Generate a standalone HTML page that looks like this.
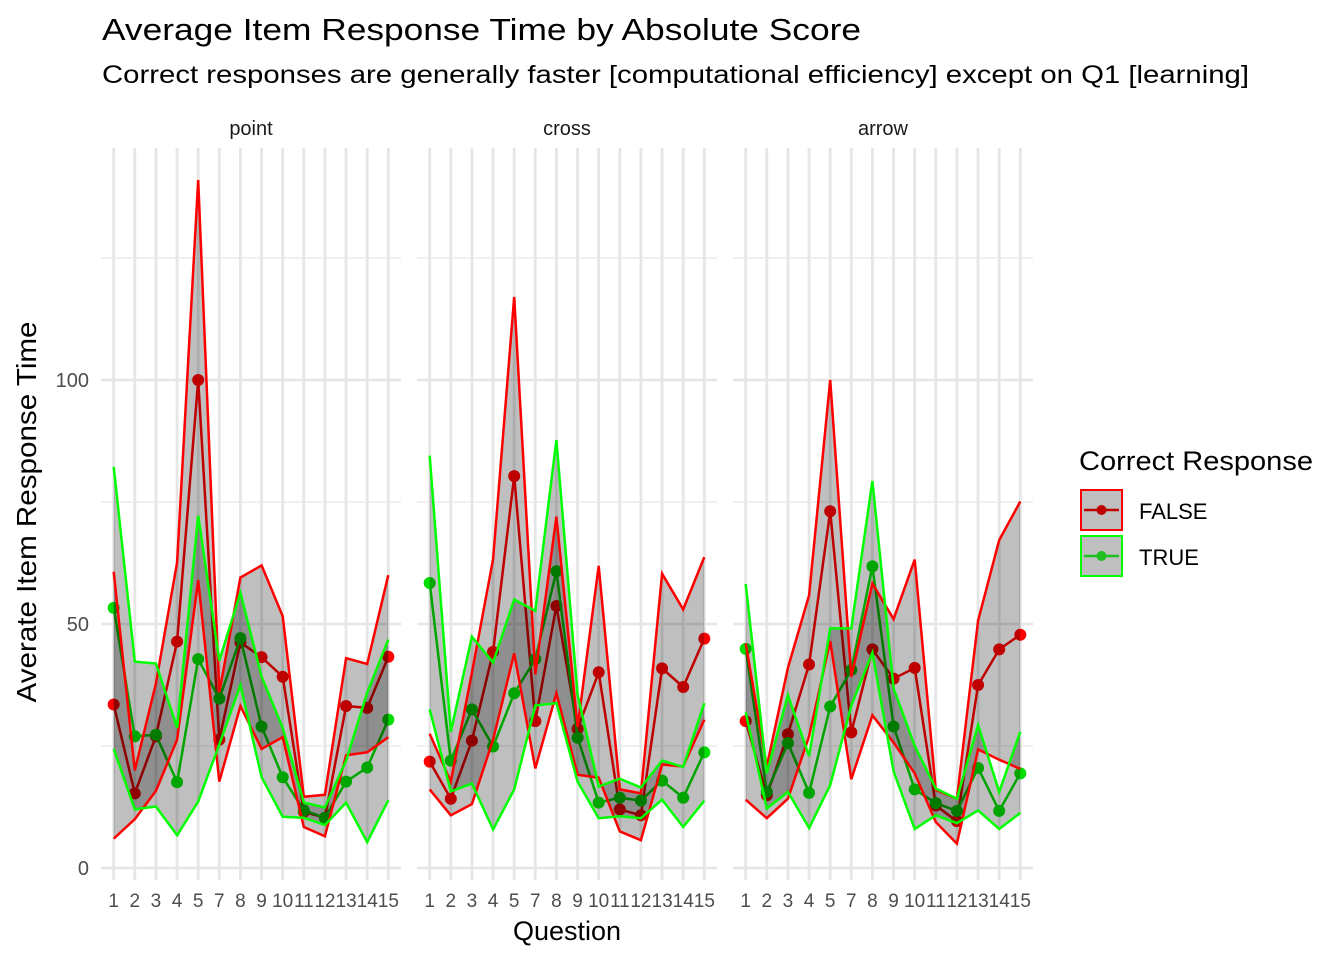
<!DOCTYPE html>
<html><head><meta charset="utf-8"><style>
body{margin:0;background:#fff;}
svg{display:block;font-family:"Liberation Sans",Arial,sans-serif;}
</style></head><body>
<svg id="chart" width="1344" height="960" viewBox="0 0 1344 960">
<text x="102" y="40" font-size="31" fill="#000" textLength="759" lengthAdjust="spacingAndGlyphs">Average Item Response Time by Absolute Score</text>
<text x="102" y="83" font-size="25" fill="#000" textLength="1147" lengthAdjust="spacingAndGlyphs">Correct responses are generally faster [computational efficiency] except on Q1 [learning]</text>
<text transform="translate(36,512) rotate(-90)" text-anchor="middle" font-size="28" fill="#000" textLength="381" lengthAdjust="spacingAndGlyphs">Averate Item Response Time</text>
<text x="567" y="940" text-anchor="middle" font-size="27" fill="#000">Question</text>
<g id="panels"></g>
<g>
<text x="1079" y="470" font-size="27" fill="#000" textLength="234" lengthAdjust="spacingAndGlyphs">Correct Response</text>
<g>
<rect x="1081" y="490" width="41" height="40" fill="#bfbfbf" stroke="#ff0000" stroke-width="2"/>
<line x1="1084" y1="510" x2="1119" y2="510" stroke="#bf0000" stroke-width="2.5"/>
<circle cx="1101.5" cy="510" r="5" fill="#bf0000"/>
<text x="1139" y="519" font-size="22" fill="#000">FALSE</text>
</g>
<g>
<rect x="1081" y="536" width="41" height="40" fill="#bfbfbf" stroke="#00ff00" stroke-width="2"/>
<line x1="1084" y1="556" x2="1119" y2="556" stroke="#1fbf1f" stroke-width="2.5"/>
<circle cx="1101.5" cy="556" r="5" fill="#1fbf1f"/>
<text x="1139" y="565" font-size="22" fill="#000">TRUE</text>
</g>
</g>
</svg>
<script>
const categories = ["1","2","3","4","5","7","8","9","10","11","12","13","14","15"];
const panelNames = ["point","cross","arrow"];
const yTicks = [0,50,100];
const yMinor = [25,75,125];
// point
const pointFalseMean = [33.5,15.3,27,46.4,100,26.3,46.2,43.2,39.2,11.5,10.3,33.2,32.8,43.3];
const pointFalseHi = [60.7,20,37.8,62.6,141,36,59.5,62,51.6,14.6,15,43,41.8,60];
const pointFalseLo = [6,10,15.8,26.3,59,17.7,33.2,24.4,26.8,8.4,6.5,23.1,23.7,26.8];
const pointTrueMean = [53.3,27,27.3,17.6,42.8,34.7,47.1,29,18.6,11.8,10.3,17.7,20.6,30.4];
const pointTrueHi = [82.2,42.3,41.9,28.7,72.2,42.5,56.4,39.2,28.7,13.4,12.4,22,35.9,46.8];
const pointTrueLo = [24.4,12,12.6,6.7,13.6,25.3,37.5,18.6,10.5,10.3,8.8,13.4,5.3,13.9];
// cross
const crossFalseMean = [21.8,14.2,26.1,44.3,80.3,30.1,53.7,28.5,40.1,12,10.8,40.9,37.1,47];
const crossFalseHi = [27.5,17.7,40,63.3,117,39.7,72,28.9,61.9,16.1,15.3,60.3,53,63.7];
const crossFalseLo = [16.1,10.8,13.1,26.3,44,20.4,35.8,19.1,18.5,7.5,5.7,21.2,20.8,30.4];
const crossTrueMean = [58.4,22,32.5,24.9,35.8,42.8,60.8,26.7,13.4,14.4,13.8,17.9,14.4,23.7];
const crossTrueHi = [84.5,27.9,47.4,42.1,55,52.7,87.7,35.4,16.7,18.3,16.5,22,20.7,33.8];
const crossTrueLo = [32.5,15.7,17.3,7.9,16.1,33.3,33.8,17.7,10.2,10.6,10.2,14,8.4,13.8];
// arrow
const arrowFalseMean = [30.1,14.9,27.4,41.7,73.1,27.8,44.8,38.8,41,12.8,9.6,37.5,44.8,47.8];
const arrowFalseHi = [46,20.8,41,55.9,100,39.2,58.3,51,63.2,16,14.2,50.7,67.2,75.1];
const arrowFalseLo = [14,10.2,14.2,27,46.5,18.2,31.3,25.7,19.4,9.4,5,24.3,22.2,20.3];
const arrowTrueMean = [44.9,15.6,25.6,15.4,33.1,40.6,61.8,29,16.1,13.3,11.7,20.5,11.7,19.4];
const arrowTrueHi = [58.2,19.4,35.4,22.9,49.1,49.1,79.3,36.8,25,16.3,14.2,29.3,15.6,27.9];
const arrowTrueLo = [31.9,12.2,15.6,8.2,17,33.3,44.1,19.8,8,10.8,9.2,11.8,8,11.3];

const seriesByPanel = [
 {fm:pointFalseMean,fh:pointFalseHi,fl:pointFalseLo,tm:pointTrueMean,th:pointTrueHi,tl:pointTrueLo},
 {fm:crossFalseMean,fh:crossFalseHi,fl:crossFalseLo,tm:crossTrueMean,th:crossTrueHi,tl:crossTrueLo},
 {fm:arrowFalseMean,fh:arrowFalseHi,fl:arrowFalseLo,tm:arrowTrueMean,th:arrowTrueHi,tl:arrowTrueLo}
];
const NS="http://www.w3.org/2000/svg";
const root=document.getElementById('panels');
const panelLeft=[101,417,733], panelW=300, plotTop=148, plotBottom=880;
function yScale(v){return 868 - v*4.88;}
function mk(tag,attrs,parent){const e=document.createElementNS(NS,tag);for(const k in attrs)e.setAttribute(k,attrs[k]);parent.appendChild(e);return e;}
yTicks.forEach(t=>{
 const e=mk('text',{x:89,y:yScale(t)+7,'text-anchor':'end','font-size':20,fill:'#4d4d4d'},root);
 
 
 e.textContent=t;
});
panelNames.forEach((name,p)=>{
 const L=panelLeft[p];
 const step=panelW/(categories.length-1+1.2);
 const xScale=i=>L+(i+0.6)*step;
 const g=mk('g',{},root);
 
 
 yMinor.forEach(t=>{const l=mk('line',{x1:L,x2:L+panelW,y1:yScale(t),y2:yScale(t),stroke:'#ebebeb','stroke-width':1.5},g);
  
  });
 yTicks.forEach(t=>{const l=mk('line',{x1:L,x2:L+panelW,y1:yScale(t),y2:yScale(t),stroke:'#e6e6e6','stroke-width':2.6},g);
  
  });
 categories.forEach((c,i)=>{
  const l=mk('line',{x1:xScale(i),x2:xScale(i),y1:plotTop,y2:plotBottom,stroke:'#e6e6e6','stroke-width':2.8},g);
  
  
  const t=mk('text',{x:xScale(i),y:907,'text-anchor':'middle','font-size':19,fill:'#4d4d4d'},g);
  
  
  t.textContent=c;
 });
 const st=mk('text',{x:L+panelW/2,y:135,'text-anchor':'middle','font-size':20,fill:'#1a1a1a'},g);
 
 
 st.textContent=name;
 const s=seriesByPanel[p];
 const pts=a=>a.map((v,i)=>xScale(i).toFixed(1)+','+yScale(v).toFixed(1)).join(' ');
 [[s.fm,'#ff0000','false'],[s.tm,'#00dd00','true']].forEach(([arr,col,key])=>{
  const pl=mk('polyline',{points:pts(arr),fill:'none',stroke:col,'stroke-width':2.5},g);
  
  
  arr.forEach((v,i)=>{const c=mk('circle',{cx:xScale(i),cy:yScale(v),r:6,fill:col},g);
   
   });
 });
 [[s.fh,s.fl,'false'],[s.th,s.tl,'true']].forEach(([hi,lo,key])=>{
  const poly=pts(hi)+' '+lo.map((v,i)=>[i,v]).reverse().map(([i,v])=>xScale(i).toFixed(1)+','+yScale(v).toFixed(1)).join(' ');
  const r=mk('polygon',{points:poly,fill:'rgba(0,0,0,0.25)',stroke:'none'},g);
  
  
 });
 [[s.fh,s.fl,'#ff0000','false'],[s.th,s.tl,'#00ff00','true']].forEach(([hi,lo,col,key])=>{
  const a=mk('polyline',{points:pts(hi),fill:'none',stroke:col,'stroke-width':2.5},g);
  
  
  const b=mk('polyline',{points:pts(lo),fill:'none',stroke:col,'stroke-width':2.5},g);
  
  
 });
});
</script>
</body></html>
